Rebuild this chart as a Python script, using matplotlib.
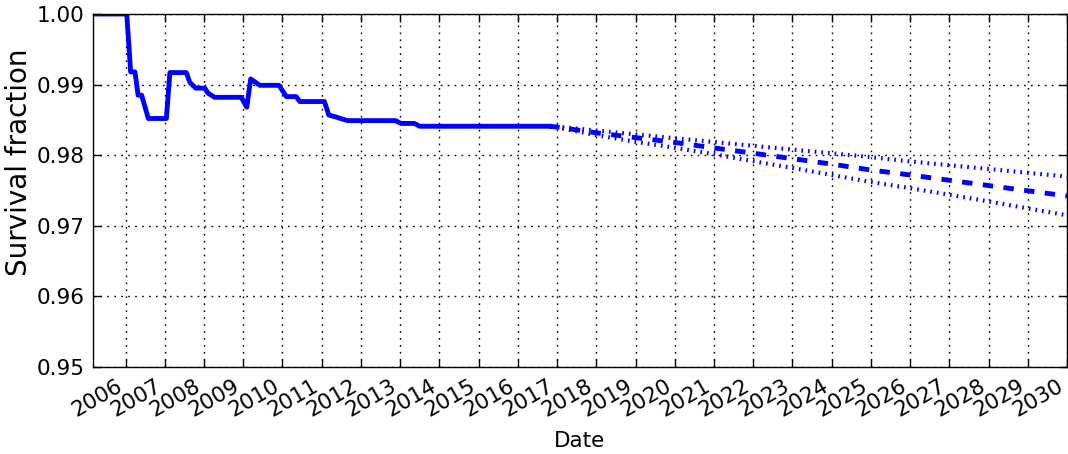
import matplotlib
matplotlib.use("Agg")
import matplotlib.pyplot as plt

# Curva de supervivencia observada (anio decimal, fraccion)
obs_year = [2005.17, 2006.03, 2006.13, 2006.24, 2006.32, 2006.41, 2006.58, 2007.04,
            2007.13, 2007.55, 2007.64, 2007.79, 2008.02, 2008.10, 2008.27, 2008.95,
            2009.09, 2009.19, 2009.42, 2009.91, 2010.10, 2010.35, 2010.44, 2011.07,
            2011.18, 2011.37, 2011.54, 2011.66, 2012.88, 2013.02, 2013.36, 2013.50,
            2016.80]
obs_frac = [1.0000, 1.0000, 0.9918, 0.9918, 0.9885, 0.9885, 0.9852, 0.9852,
            0.9917, 0.9917, 0.9903, 0.9895, 0.9895, 0.9888, 0.9882, 0.9882,
            0.9868, 0.9908, 0.9899, 0.9899, 0.9883, 0.9883, 0.9876, 0.9876,
            0.9857, 0.9854, 0.9851, 0.9849, 0.9849, 0.9845, 0.9845, 0.9841,
            0.9841]

# Proyeccion y banda
proj_year = [2016.80, 2017, 2018, 2019, 2020, 2021, 2022, 2023, 2024, 2025,
             2026, 2027, 2028, 2029, 2030]
proj_mid = [0.9841, 0.98399, 0.98317, 0.98249, 0.98181, 0.98103, 0.98028, 0.97951,
            0.97874, 0.97790, 0.97720, 0.97645, 0.97570, 0.97496, 0.97422]
proj_hi = [0.9841, 0.98405, 0.98350, 0.98295, 0.98240, 0.98187, 0.98133, 0.98080,
           0.98027, 0.97973, 0.97912, 0.97858, 0.97805, 0.97750, 0.97697]
proj_lo = [0.9841, 0.98393, 0.98285, 0.98190, 0.98105, 0.98014, 0.97915, 0.97820,
           0.97720, 0.97620, 0.97533, 0.97440, 0.97345, 0.97247, 0.97149]

years = list(range(2006, 2031))

plt.rcParams.update({
    "font.family": "DejaVu Sans",
    "font.size": 15.5,
    "lines.scale_dashes": False,
})

fig = plt.figure(figsize=(10.68, 4.54), dpi=100)
ax = fig.add_axes([93 / 1068, 87 / 454, 974 / 1068, 353 / 454])

ax.plot(obs_year, obs_frac, color="b", lw=3.5, solid_joinstyle="round")
ax.plot(proj_year, proj_mid, color="b", lw=3.5, dashes=(7.5, 7.5))
ax.plot(proj_year, proj_hi, color="b", lw=3.0, dashes=(1.2, 3.6))
ax.plot(proj_year, proj_lo, color="b", lw=3.0, dashes=(1.2, 3.6))

ax.set_xlim(2005.17, 2030.0)
ax.set_ylim(0.95, 1.00)
ax.set_xticks(years)
ax.set_xticklabels([str(y) for y in years], rotation=30, ha="right")
ax.set_yticks([0.95, 0.96, 0.97, 0.98, 0.99, 1.00])
ax.set_yticklabels(["%.2f" % v for v in ax.get_yticks()])
ax.tick_params(direction="in", top=True, right=True, length=6, width=1, pad=6)
ax.grid(True, color="k", linestyle=(0, (1.2, 3.8)), linewidth=1.0)
for s in ax.spines.values():
    s.set_linewidth(1.0)

ax.set_xlabel("Date", labelpad=8)
ax.set_ylabel("Survival fraction", fontsize=20)
ax.yaxis.set_label_coords(-0.062, 0.579)

fig.savefig("out.png", dpi=100)
